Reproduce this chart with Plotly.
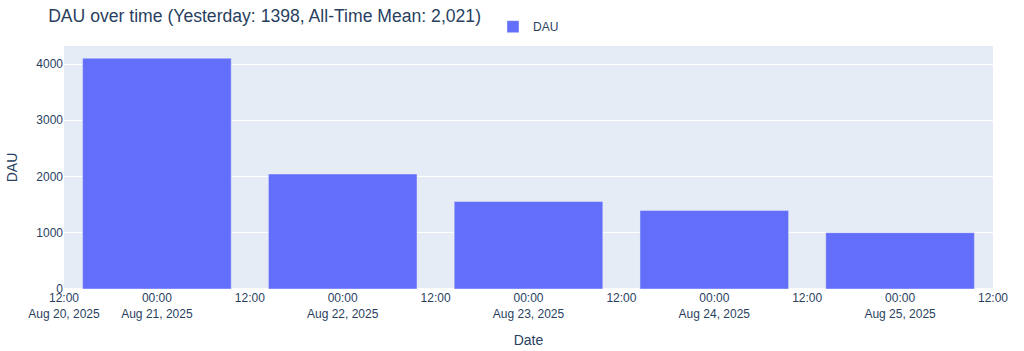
import plotly.graph_objects as go

dates = ["2025-08-21", "2025-08-22", "2025-08-23", "2025-08-24", "2025-08-25"]
dau = [4105, 2045, 1555, 1398, 1002]
title_text = "DAU over time (Yesterday: 1398, All-Time Mean: 2,021)"

fig = go.Figure()
fig.add_trace(go.Bar(x=dates, y=dau, name="DAU", marker_color="#636efa", showlegend=True))

fig.update_layout(
    template="plotly",
    width=1024,
    height=351,
    font=dict(family="Arial, Liberation Sans, sans-serif"),
    title=dict(text=title_text, x=0.047, y=0.955, xanchor="left", yanchor="middle",
               font=dict(size=17.6)),
    margin=dict(l=64, r=31, t=46, b=62),
    legend=dict(orientation="h", x=0.5, xanchor="center", y=1.02, yanchor="bottom"),
    xaxis=dict(title=dict(text="Date"), automargin=False),
    yaxis=dict(title=dict(text="DAU"), automargin=False),
)
fig.write_html("out.html")
